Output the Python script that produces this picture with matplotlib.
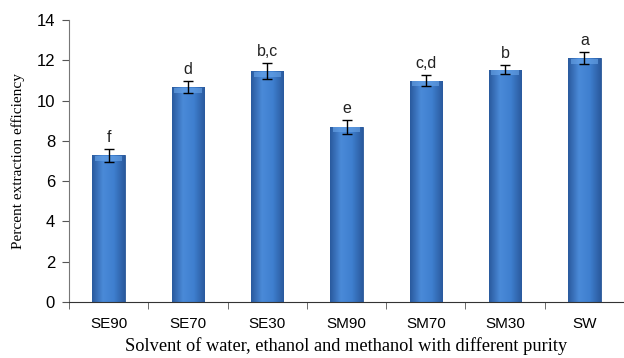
import numpy as np
import matplotlib
matplotlib.use('Agg')
import matplotlib.pyplot as plt
from matplotlib.colors import LinearSegmentedColormap

# datos
solvents = ['SE90', 'SE70', 'SE30', 'SM90', 'SM70', 'SM30', 'SW']
efficiency = [7.28, 10.66, 11.45, 8.70, 10.98, 11.53, 12.10]
error = [0.33, 0.30, 0.40, 0.34, 0.27, 0.23, 0.30]
letters = ['f', 'd', 'b,c', 'e', 'c,d', 'b', 'a']

W, H = 624, 358
fig = plt.figure(figsize=(W / 100, H / 100), dpi=100)
ax = fig.add_axes([69 / W, 56 / H, (W - 69) / W, 282 / H])

x = np.arange(len(solvents))
bars = ax.bar(x, efficiency, width=0.41, color='#3a76c6', edgecolor='#2a5796', linewidth=0.6, zorder=2)

# degradado horizontal dentro de cada barra
cmap = LinearSegmentedColormap.from_list('bar', ['#2a5a9e', '#4a8ad8', '#3f7fcf', '#2a5a9e'])
grad = np.linspace(0, 1, 64).reshape(1, -1)
for b in bars:
    x0, w, h = b.get_x(), b.get_width(), b.get_height()
    im = ax.imshow(grad, cmap=cmap, aspect='auto', extent=[x0, x0 + w, 0, h], zorder=2.1)
    im.set_clip_path(b)
    # brillo en la parte superior
    ax.fill_between([x0 + w * 0.08, x0 + w * 0.92], h - 0.28, h - 0.02, color='#6aa6ea', alpha=0.6, zorder=2.2, lw=0)

ax.errorbar(x, efficiency, yerr=error, fmt='none', ecolor='black', elinewidth=1, capsize=3.5, capthick=1, zorder=3)

for xi, v, e, t in zip(x, efficiency, error, letters):
    ax.annotate(t, (xi, v + e), xytext=(0, 3), textcoords='offset points', ha='center', va='bottom',
                fontsize=11.5, family='Liberation Sans', color='#222222')

ax.set_xlim(-0.5, -0.5 + (W - 69) / 80.3)
ax.set_ylim(0, 14)
ax.set_yticks(range(0, 15, 2))
ax.set_xticks(x)
ax.set_xticklabels(solvents, family='Liberation Sans', fontsize=11)
ax.set_xticks(np.arange(-0.5, 7, 1), minor=True)
ax.tick_params(axis='x', which='major', length=0, pad=11)
ax.tick_params(axis='x', which='minor', length=5, direction='out', color='#555555')
ax.tick_params(axis='y', length=5, direction='out', color='#555555', labelsize=12, pad=5)
for lab in ax.get_yticklabels():
    lab.set_family('Liberation Sans')
for s in ['top', 'right']:
    ax.spines[s].set_visible(False)
ax.spines['left'].set_color('#777777')
ax.spines['bottom'].set_color('#333333')

ax.set_ylabel('Percent extraction efficiency', family='Liberation Serif', fontsize=11, labelpad=8)
ax.set_xlabel('Solvent of water, ethanol and methanol with different purity', family='Liberation Serif',
              fontsize=13.2, labelpad=4)

plt.savefig('out.png', dpi=100)
